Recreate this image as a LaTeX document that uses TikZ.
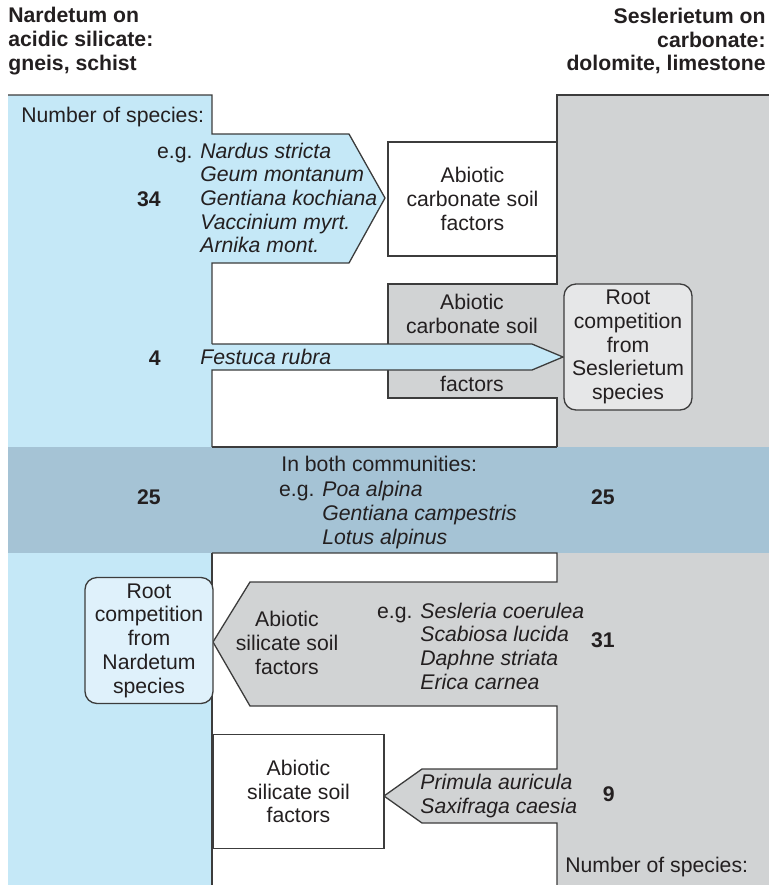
\documentclass[tikz,border=0pt]{standalone}
\usepackage{fontspec}
\setmainfont{Liberation Sans}
\usetikzlibrary{positioning}
\definecolor{nardblue}{HTML}{C5E8F7}
\definecolor{seslgray}{HTML}{D1D3D4}
\definecolor{bothblue}{HTML}{A5C3D5}
\definecolor{rootblue}{HTML}{DFF1FB}
\definecolor{rootgray}{HTML}{E6E7E8}
\definecolor{linegray}{HTML}{3C3C3C}
\definecolor{inkgray}{HTML}{231F20}

\begin{document}
\begin{tikzpicture}[
    x=0.5pt, y=-0.5pt,
    every node/.style={font=\fontsize{10.6pt}{11.85pt}\selectfont, text=inkgray, inner sep=0pt},
    outline/.style={draw=linegray, line width=0.65pt},
    soilbox/.style={rectangle, draw=linegray, line width=0.65pt, fill=white, align=center,
                    minimum width=#1, minimum height=57pt},
    rootbox/.style={rectangle, rounded corners=6pt, draw=linegray, line width=0.65pt, fill=#1,
                    align=center, minimum width=64pt, minimum height=63pt},
    count/.style={font=\fontsize{10.6pt}{11.85pt}\selectfont\bfseries, anchor=east},
    species/.style={align=left, anchor=west}
]
\useasboundingbox (0,0) rectangle (769,885);

% Columns
\fill[seslgray] (557,95) rectangle (769,885);
\fill[nardblue] (8,95) rectangle (212,885);

% Top half: Nardetum species into carbonate
\fill[nardblue] (212,134) -- (349,134) -- (385,198) -- (349,263) -- (212,263) -- cycle;
\fill[seslgray] (388,284) rectangle (557,398);
\draw[outline] (769,95) -- (557,95) -- (557,284) -- (388,284) -- (388,398) -- (557,398) -- (557,447);
\draw[outline] (8,95) -- (212,95) -- (212,134) -- (349,134) -- (385,198) -- (349,263) -- (212,263) -- (212,344);
\fill[nardblue] (212,344) -- (532,344) -- (563,357) -- (532,370) -- (212,370) -- cycle;
\draw[outline] (212,344) -- (532,344) -- (563,357) -- (532,370) -- (212,370) -- (212,447);

\node[soilbox=84.5pt] at (472.5,199) (carbsoil) {Abiotic\\carbonate soil\\factors};
\node[rootbox=rootgray] at (628,347) (rootsesl) {Root\\competition\\from\\Seslerietum\\species};
\node[align=center] at (472,314) (carbtop) {Abiotic\\carbonate soil};
\node at (472,384) (carbbot) {factors};

\node[anchor=west] at (21,117) (numtop) {Number of species:};
\node[count] at (161,199) (n34) {34};
\node[species] at (200,198) (nardlist)
    {\llap{e.g. }\textit{Nardus stricta}\\\textit{Geum montanum}\\\textit{Gentiana kochiana}\\
     \textit{Vaccinium myrt.}\\\textit{Arnika mont.}};
\node[count] at (161,358) (n4) {4};
\node[anchor=west] at (200,357) (festuca) {\textit{Festuca rubra}};

% Shared band
\fill[bothblue] (8,447) rectangle (769,553);
\draw[outline] (212,447) -- (557,447);
\node[anchor=west] at (281,464) (both) {In both communities:};
\node[species] at (322,515) (bothlist)
    {\llap{e.g. }\textit{Poa alpina}\\\textit{Gentiana campestris}\\\textit{Lotus alpinus}};
\node[count] at (161,497) (n25l) {25};
\node[count] at (615,497) (n25r) {25};

% Bottom half: Seslerietum species into silicate
\fill[seslgray] (557,582) -- (250,582) -- (213,642) -- (250,706) -- (557,706) -- cycle;
\fill[seslgray] (557,769) -- (422,769) -- (384,796) -- (422,823) -- (557,823) -- cycle;
\draw[outline] (212,553) -- (212,885);
\draw[outline] (212,553) -- (557,553) -- (557,582) -- (250,582) -- (213,642) -- (250,706) -- (557,706)
    -- (557,769) -- (422,769) -- (384,796) -- (422,823) -- (557,823) -- (557,885);

\node[rootbox=rootblue] at (149,640.5) (rootnard) {Root\\competition\\from\\Nardetum\\species};
\node[align=center] at (287,643) (silitop) {Abiotic\\silicate soil\\factors};
\node[soilbox=85.5pt] at (298.5,791.5) (silisoil) {Abiotic\\silicate soil\\factors};

\node[species] at (420,646) (sesllist)
    {\llap{e.g. }\textit{Sesleria coerulea}\\\textit{Scabiosa lucida}\\\textit{Daphne striata}\\
     \textit{Erica carnea}};
\node[count] at (615,640) (n31) {31};
\node[species] at (420,796) (primlist) {\textit{Primula auricula}\\\textit{Saxifraga caesia}};
\node[count] at (615,794) (n9) {9};
\node[anchor=west] at (565,867) (numbot) {Number of species:};

% Headings
\node[anchor=west, align=left, font=\fontsize{10.6pt}{11.85pt}\selectfont\bfseries] at (8,41) (nardhead)
    {Nardetum on\\acidic silicate:\\gneis, schist};
\node[anchor=east, align=right, font=\fontsize{10.6pt}{11.85pt}\selectfont\bfseries] at (766,41) (seslhead)
    {Seslerietum on\\carbonate:\\dolomite, limestone};
\end{tikzpicture}
\end{document}
